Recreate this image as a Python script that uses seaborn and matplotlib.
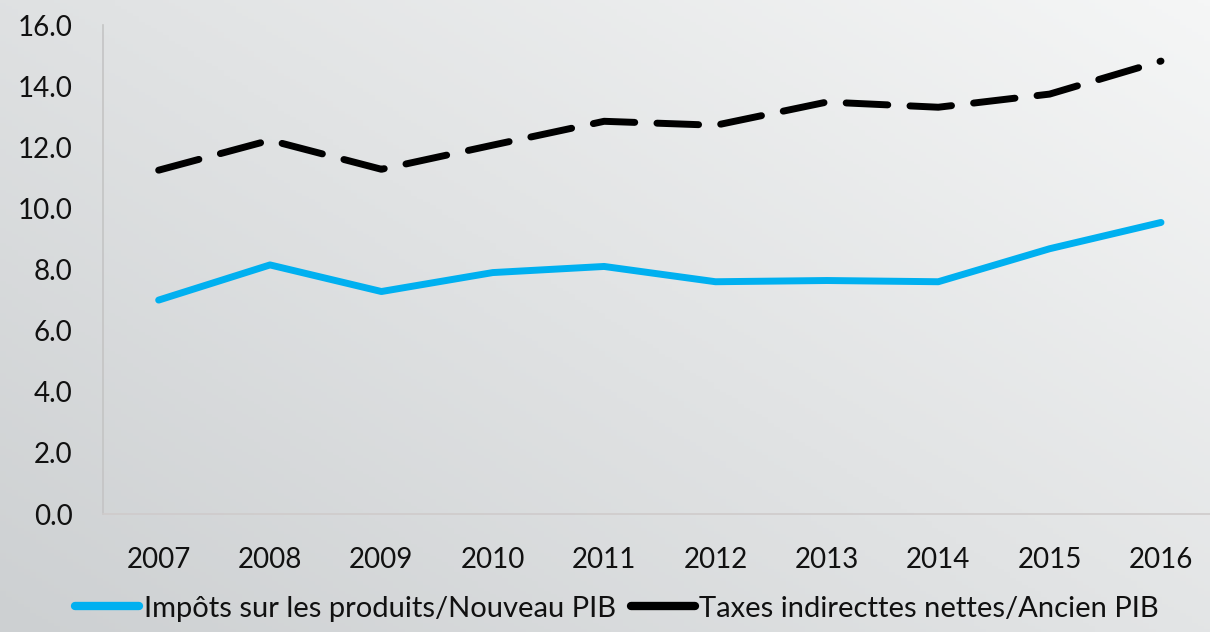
import numpy as np
import pandas as pd
import seaborn as sns
import matplotlib.pyplot as plt
from matplotlib.lines import Line2D

years = ['2007', '2008', '2009', '2010', '2011', '2012', '2013', '2014', '2015', '2016']
impots_nouveau = [7.0, 8.15, 7.28, 7.9, 8.1, 7.6, 7.64, 7.6, 8.68, 9.54]
taxes_ancien = [11.25, 12.23, 11.28, 12.07, 12.85, 12.72, 13.48, 13.31, 13.74, 14.82]
label_blue = 'Impôts sur les produits/Nouveau PIB'
label_black = 'Taxes indirecttes nettes/Ancien PIB'

df = pd.DataFrame({'Année': years * 2,
                   'Valeur': impots_nouveau + taxes_ancien,
                   'Série': [label_blue] * len(years) + [label_black] * len(years)})

sns.set_theme(style='white')
plt.rcParams['font.family'] = ['Lato', 'DejaVu Sans']

fig = plt.figure(figsize=(12.1, 6.32), dpi=100)

# gradient background, lighter top-right, darker bottom-left
bg = fig.add_axes([0, 0, 1, 1], zorder=-10)
gx, gy = np.meshgrid(np.linspace(0, 1, 200), np.linspace(0, 1, 200))
grad = 0.55 * gx + 0.45 * (1 - gy)
bg.imshow(grad, cmap=plt.matplotlib.colors.LinearSegmentedColormap.from_list(
    'bgc', ['#cdd0d2', '#f5f6f6']), aspect='auto', origin='upper', extent=[0, 1, 0, 1])
bg.axis('off')

ax = fig.add_axes([0.0851, 0.1867, 0.9149, 0.7737])
ax.patch.set_alpha(0)

sns.lineplot(data=df, x='Année', y='Valeur', hue='Série', style='Série',
             palette={label_blue: '#00b0f0', label_black: '#000000'},
             dashes={label_blue: '', label_black: (6, 3.2)},
             linewidth=5, legend=False, ax=ax)
for ln in ax.get_lines():
    ln.set_solid_capstyle('round')
    ln.set_dash_capstyle('round')
    ln.set_solid_joinstyle('round')

ax.set_xlim(-0.5, 9.44)
ax.set_ylim(0, 16)
ax.set_yticks(np.arange(0, 16.1, 2))
ax.set_yticklabels([f'{v:.1f}' for v in np.arange(0, 16.1, 2)])
ax.set_xlabel('')
ax.set_ylabel('')
ax.tick_params(axis='both', length=0, labelsize=20, colors='#111111')
ax.tick_params(axis='y', pad=22)
ax.tick_params(axis='x', pad=24)
for side in ['top', 'right']:
    ax.spines[side].set_visible(False)
ax.spines['left'].set_color('#c4c4c4')
ax.spines['bottom'].set_color('#cfcbcb')
ax.spines['left'].set_linewidth(1.2)
ax.spines['bottom'].set_linewidth(1.2)

handles = [Line2D([], [], color='#00b0f0', lw=6, solid_capstyle='round'),
           Line2D([], [], color='#000000', lw=6, solid_capstyle='round')]
fig.legend(handles, [label_blue, label_black], loc='lower center',
           bbox_to_anchor=(0.51, -0.025), ncol=2, frameon=False,
           prop={'size': 21}, labelcolor='#111111',
           handlelength=2.2, handletextpad=0.15, columnspacing=0.5)

fig.savefig('out.png', dpi=100)
